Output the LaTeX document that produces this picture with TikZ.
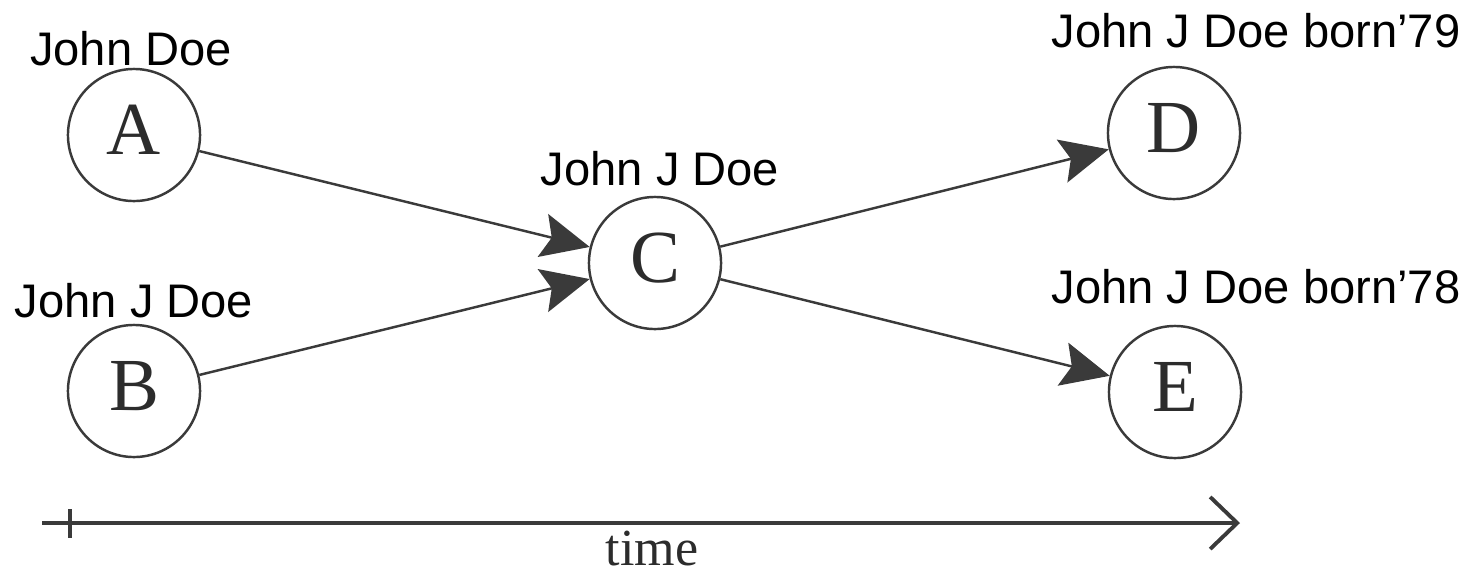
\documentclass[tikz,border=0pt]{standalone}
\usepackage{fontspec}
\setmainfont{Liberation Serif}
\setsansfont{Liberation Sans}
\usepackage{xcolor}
\usepackage{tikz}
\usetikzlibrary{arrows.meta, positioning}
\definecolor{inkgray}{HTML}{3A3A3A}
\definecolor{letterink}{HTML}{2C2C2C}
\tikzstyle{record} = [circle, draw=inkgray, line width=0.7pt,
    minimum size=1.32cm, inner sep=0pt, text depth=0.1cm,
    text=letterink, font=\fontsize{21.3}{24}\selectfont]
\tikzstyle{reclabel} = [anchor=base, inner sep=0pt,
    font=\sffamily\fontsize{13.4}{16}\selectfont]
\tikzstyle{link}   = [draw=inkgray, line width=0.7pt,
    -{Stealth[length=0.48cm, width=0.44cm, inset=0.09cm]}, fill=inkgray]
\tikzstyle{axis}   = [draw=inkgray, line width=1.1pt]

\begin{document}
\begin{tikzpicture}[x=0.01cm, y=-0.01cm]
  \useasboundingbox (0,0) rectangle (1478,572);

  % Records
  \node[record] (A) at (134,135) {A};
  \node[record] (B) at (134,391) {B};
  \node[record] (C) at (655,263) {C};
  \node[record] (D) at (1174,133) {D};
  \node[record] (E) at (1175,392) {E};

  % Names
  \node[reclabel] (nA) at (131,65)  {John Doe};
  \node[reclabel] (nB) at (134,317) {John J Doe};
  \node[reclabel] (nC) at (660,185) {John J Doe};
  \node[reclabel] (nD) at (1256,47) {John J Doe born’79};
  \node[reclabel] (nE) at (1256,303) {John J Doe born’78};

  % Merge and split
  \draw[link] (A) -- (C);
  \draw[link] (B) -- (C);
  \draw[link] (C) -- (D);
  \draw[link] (C) -- (E);

  % Time axis
  \coordinate (t0) at (42,523);
  \coordinate (t1) at (1240,523);
  \coordinate (tickup) at (70,509);
  \coordinate (tickdn) at (70,538);
  \draw[axis, -{Straight Barb[length=0.27cm, width=0.52cm]}] (t0) -- (t1);
  \draw[axis] (tickup) -- (tickdn);
  \node[anchor=base, inner sep=0pt, text=letterink,
    font=\fontsize{14.8}{17}\selectfont] (time) at (652,565) {time};
\end{tikzpicture}
\end{document}
